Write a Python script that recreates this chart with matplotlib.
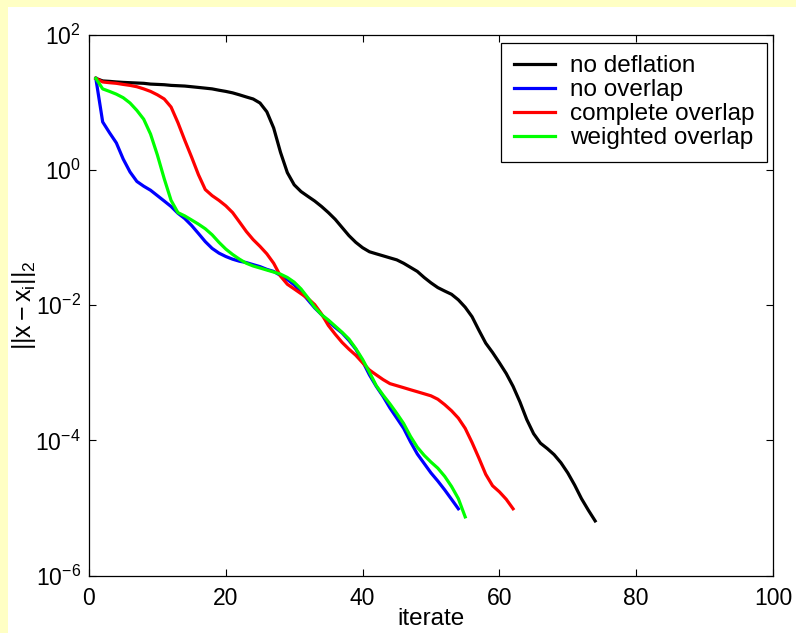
import matplotlib
matplotlib.use('Agg')
import matplotlib.pyplot as plt
from matplotlib.patches import Rectangle

plt.rcParams['font.family'] = ['Liberation Sans', 'DejaVu Sans']
plt.rcParams['mathtext.fontset'] = 'custom'
plt.rcParams['mathtext.rm'] = 'Liberation Sans'
plt.rcParams['mathtext.it'] = 'Liberation Sans'
plt.rcParams['mathtext.bf'] = 'Liberation Sans:bold'

# residual norm per iterate
iter_black = list(range(1, 75))
res_black = [22.6, 20.7, 20.4, 20.0, 19.7, 19.5, 19.3, 19.1, 18.6, 18.4,
             18.2, 17.8, 17.6, 17.4, 17.0, 16.6, 16.2, 15.8, 15.1, 14.5,
             13.8, 12.9, 12.0, 11.2, 9.77, 7.24, 4.17, 1.82, 0.912, 0.603,
             0.479, 0.407, 0.347, 0.288, 0.234, 0.186, 0.141, 0.107, 0.0851, 0.0708,
             0.0617, 0.0575, 0.0537, 0.0501, 0.0468, 0.0417, 0.0363, 0.0316, 0.0257, 0.0214,
             0.0182, 0.0162, 0.0145, 0.0120, 9.33e-3, 6.76e-3, 4.27e-3, 2.75e-3, 2.00e-3, 1.41e-3,
             9.77e-4, 6.31e-4, 3.72e-4, 2.04e-4, 1.26e-4, 9.12e-5, 7.59e-5, 6.17e-5, 4.68e-5, 3.31e-5,
             2.19e-5, 1.38e-5, 9.33e-6, 6.46e-6]

iter_blue = list(range(1, 55))
res_blue = [22.6, 5.13, 3.55, 2.51, 1.45, 0.933, 0.676, 0.575, 0.501, 0.417,
            0.347, 0.288, 0.229, 0.191, 0.151, 0.115, 0.0871, 0.0692, 0.0589, 0.0525,
            0.0479, 0.0447, 0.0427, 0.0398, 0.0372, 0.0339, 0.0316, 0.0275, 0.0240, 0.0200,
            0.0158, 0.0120, 9.12e-3, 7.24e-3, 5.75e-3, 4.68e-3, 3.89e-3, 3.02e-3, 2.24e-3, 1.48e-3,
            9.33e-4, 6.31e-4, 4.47e-4, 3.02e-4, 2.14e-4, 1.51e-4, 9.55e-5, 6.31e-5, 4.57e-5, 3.31e-5,
            2.51e-5, 1.86e-5, 1.35e-5, 9.77e-6]

iter_red = list(range(1, 63))
res_red = [22.6, 20.0, 19.5, 19.1, 18.4, 17.8, 17.0, 15.8, 14.5, 12.9,
           11.2, 8.51, 5.01, 2.75, 1.55, 0.851, 0.513, 0.417, 0.355, 0.295,
           0.234, 0.170, 0.123, 0.0933, 0.0741, 0.0575, 0.0417, 0.0269, 0.0204, 0.0174,
           0.0148, 0.0126, 0.0102, 7.41e-3, 5.01e-3, 3.72e-3, 2.82e-3, 2.24e-3, 1.82e-3, 1.41e-3,
           1.10e-3, 9.33e-4, 7.94e-4, 6.92e-4, 6.46e-4, 6.03e-4, 5.62e-4, 5.25e-4, 4.90e-4, 4.57e-4,
           4.07e-4, 3.39e-4, 2.75e-4, 2.14e-4, 1.51e-4, 9.33e-5, 5.50e-5, 3.16e-5, 2.14e-5, 1.74e-5,
           1.35e-5, 9.77e-6]

iter_green = list(range(1, 56))
res_green = [22.6, 15.8, 14.5, 13.2, 11.7, 9.77, 7.59, 5.62, 3.39, 1.66,
             0.741, 0.355, 0.234, 0.209, 0.182, 0.158, 0.135, 0.110, 0.0851, 0.0676,
             0.0562, 0.0479, 0.0417, 0.0380, 0.0355, 0.0331, 0.0309, 0.0288, 0.0257, 0.0219,
             0.0174, 0.0129, 9.33e-3, 7.24e-3, 6.03e-3, 4.90e-3, 3.98e-3, 3.16e-3, 2.29e-3, 1.58e-3,
             1.02e-3, 6.46e-4, 4.68e-4, 3.47e-4, 2.51e-4, 1.78e-4, 1.15e-4, 7.94e-5, 6.03e-5, 4.79e-5,
             3.89e-5, 2.95e-5, 2.09e-5, 1.38e-5, 7.41e-6]

labels = ['no deflation', 'no overlap', 'complete overlap', 'weighted overlap']
colors = ['black', 'blue', 'red', '#00ff00']
xticks = [0, 20, 40, 60, 80, 100]
yticks = [1e-6, 1e-4, 1e-2, 1e0, 1e2]

fig = plt.figure(figsize=(7.96, 6.33), dpi=100, facecolor='#ffffc4')
# white page area, yellow strip left and top
page = Rectangle((8 / 796, 0), 1, 1 - 7 / 633, transform=fig.transFigure,
                 facecolor='white', edgecolor='none', zorder=-10)
fig.add_artist(page)

ax = fig.add_axes([0.1118, 0.0905, 0.8593, 0.8547])
ax.set_facecolor('white')

series = [(iter_black, res_black), (iter_blue, res_blue),
          (iter_red, res_red), (iter_green, res_green)]
for (xs, ys), lab, col in zip(series, labels, colors):
    ax.semilogy(xs, ys, color=col, lw=2.3, label=lab, solid_joinstyle='round')

ax.set_xlim(0, 100)
ax.set_ylim(1e-6, 1e2)
ax.set_xticks(xticks)
ax.set_xticklabels([str(t) for t in xticks])
ax.set_yticks(yticks)
ax.set_yticklabels([r'$10^{%d}$' % e for e in [-6, -4, -2, 0, 2]])
ax.minorticks_off()
ax.tick_params(direction='in', top=True, right=True, length=5, width=0.8,
               labelsize=16.5, colors='black')
ax.tick_params(axis='x', pad=8)
ax.tick_params(axis='y', pad=6)
for sp in ax.spines.values():
    sp.set_linewidth(0.9)

ax.set_xlabel('iterate', fontsize=17.5, labelpad=-1)
ax.set_ylabel(r'$||x - x_i||_2$', fontsize=18, labelpad=-2)

leg = ax.legend(loc='upper right', bbox_to_anchor=(0.9912, 0.9852), borderaxespad=0,
                fontsize=17.5, handlelength=1.7, handletextpad=0.6, labelspacing=0.08,
                borderpad=0.52, fancybox=False, framealpha=1, edgecolor='black')
leg.get_frame().set_linewidth(0.9)

fig.savefig('out.png', dpi=100, facecolor=fig.get_facecolor())
